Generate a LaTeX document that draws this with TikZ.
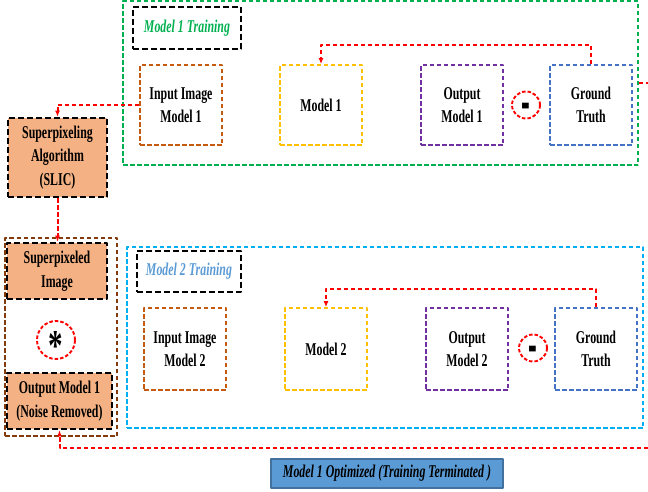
\documentclass[tikz,border=0pt]{standalone}
\usepackage{fontspec}
\setmainfont{Liberation Serif}[FakeStretch=0.66]
\newfontfamily\signfont{Liberation Sans}[FakeStretch=0.55]
\usetikzlibrary{arrows.meta,shapes.geometric}
\definecolor{grn}{HTML}{00B050}
\definecolor{cyn}{HTML}{00B0F0}
\definecolor{rust}{HTML}{C55A11}
\definecolor{gold}{HTML}{FFC000}
\definecolor{purp}{HTML}{7030A0}
\definecolor{gtblue}{HTML}{4472C4}
\definecolor{lblue}{HTML}{5B9BD5}
\definecolor{dblue}{HTML}{41719C}
\definecolor{peach}{HTML}{F4B183}
\definecolor{brwn}{HTML}{843C0C}
\definecolor{rd}{HTML}{FF0000}

\begin{document}
\begin{tikzpicture}[x=1pt, y=-1pt, line join = round,
    every node/.style={font=\bfseries\fontsize{18}{23.5}\selectfont, align=center, inner sep=0pt},
    frame/.style={draw, dash pattern=on 4.5pt off 2.5pt, line width=1.9pt},
    box/.style={frame, minimum width=82pt, minimum height=80pt},
    blk/.style={draw=black, dash pattern=on 6pt off 3pt, line width=2.6pt},
    slicbox/.style={blk, fill=peach, minimum width=99pt},
    tag/.style={blk, line width=2.2pt, font=\bfseries\itshape\fontsize{18}{23.5}\selectfont},
    op/.style={draw=rd, dash pattern=on 3.5pt off 2pt, line width=1.9pt, ellipse},
    link/.style={draw=rd, dash pattern=on 4.5pt off 2.5pt, line width=2pt},
    linkarr/.style={link, -{Latex[length=6pt,width=5pt]}}]
  \useasboundingbox (0,0) rectangle (648,491);

  % frames
  \node[frame, draw=grn, minimum width=515pt, minimum height=164pt] (m1train) at (380.5,83) {};
  \node[frame, draw=cyn, minimum width=516pt, minimum height=181pt] (m2train) at (385,337.5) {};
  \node[frame, draw=brwn, minimum width=112pt, minimum height=198pt] (stage) at (61,337) {};

  % model 1 row
  \node[tag, text=grn, minimum width=108pt, minimum height=42pt] (lab1) at (187,28) {Model 1 Training};
  \node[box, draw=rust] (in1) at (181,105) {Input Image\\Model 1};
  \node[box, draw=gold] (mod1) at (321,105) {Model 1};
  \node[box, draw=purp] (out1) at (462,105) {Output\\Model 1};
  \node[op, minimum width=28pt, minimum height=27pt] (minus1) at (526,105) {\raisebox{-13pt}[0pt][0pt]{\signfont\fontsize{48}{48}\selectfont -}};
  \node[box, draw=gtblue] (gt1) at (591,105) {Ground\\Truth};

  % model 2 row
  \node[tag, text=lblue, minimum width=104pt, minimum height=41pt] (lab2) at (189,271.5) {Model 2 Training};
  \node[box, draw=rust, minimum height=82pt] (in2) at (185,349) {Input Image\\Model 2};
  \node[box, draw=gold, minimum height=82pt] (mod2) at (326,349) {Model 2};
  \node[box, draw=purp, minimum height=82pt] (out2) at (467,349) {Output\\Model 2};
  \node[op, minimum width=28pt, minimum height=27pt] (minus2) at (533,348) {\raisebox{-13pt}[0pt][0pt]{\signfont\fontsize{48}{48}\selectfont -}};
  \node[box, draw=gtblue, minimum height=82pt] (gt2) at (596,349) {Ground\\Truth};

  % left column
  \node[slicbox, minimum height=79pt] (slic) at (57.5,157.5) {Superpixeling\\Algorithm\\(SLIC)};
  \node[slicbox, minimum width=100pt, minimum height=56pt] (spimg) at (57,271) {Superpixeled\\Image};
  \node[op, circle, minimum size=38pt] (star) at (56,340) {\raisebox{-20pt}[0pt][0pt]{\fontsize{44}{44}\selectfont *}};
  \node[slicbox, minimum width=105pt, minimum height=56pt] (out1n) at (59.5,401) {Output Model 1\\(Noise Removed)};

  % result
  \node[draw=dblue, line width=1.4pt, fill=lblue, minimum width=232pt, minimum height=29pt,
        font=\bfseries\itshape\fontsize{18}{23.5}\selectfont] (opt) at (387,473.5) {Model 1 Optimized (Training Terminated )};

  % loose ends
  \coordinate (loop1) at (321,45);
  \coordinate (loop2) at (326,289);
  \coordinate (exit1) at (648,83);
  \coordinate (exit2) at (648,448);

  % red links
  \draw[linkarr] (gt1.north) |- (loop1) -- (mod1.north);
  \draw[linkarr] (gt2.north) |- (loop2) -- (mod2.north);
  \draw[link] (m1train.east) -- (exit1);
  \draw[linkarr] (in1.west) -| (slic.north);
  \draw[linkarr] (slic.south) -- (slic.south |- spimg.north);
  \draw[linkarr] (exit2) -| (out1n.south);
\end{tikzpicture}
\end{document}
